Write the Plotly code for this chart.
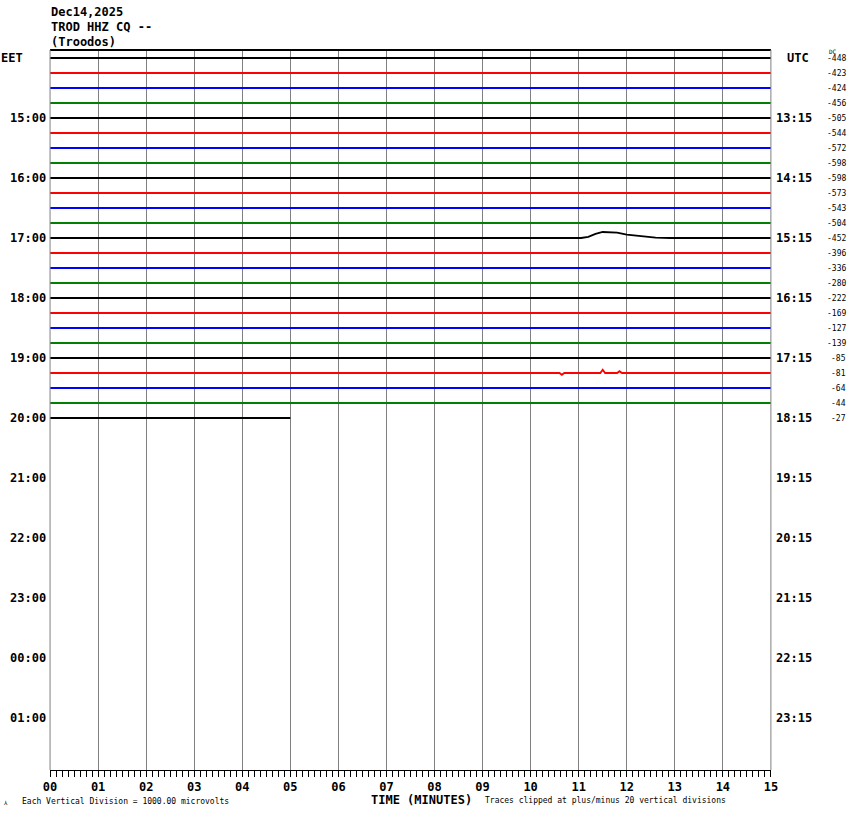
import plotly.graph_objects as go

# ---------------- data ----------------
ROW_COUNT = 25                      # 14:00 ... 20:00 EET, 15-minute rows
ROW_COLORS = ["#000000", "#ff0000", "#0000ff", "#007f00"]
LAST_ROW_END_MIN = 5.0              # last row (20:00) stops at 05 min

LEFT_LABELS = ["EET", "15:00", "16:00", "17:00", "18:00", "19:00", "20:00",
               "21:00", "22:00", "23:00", "00:00", "01:00"]
RIGHT_LABELS = ["UTC", "13:15", "14:15", "15:15", "16:15", "17:15", "18:15",
                "19:15", "20:15", "21:15", "22:15", "23:15"]
DC_OFFSETS = [-448, -423, -424, -456, -505, -544, -572, -598, -598, -573,
              -543, -504, -452, -396, -336, -280, -222, -169, -127, -139,
              -85, -81, -64, -44, -27]

# visible deviations (in trace spacings, + = up)
BUMP_ROW = 12                       # 17:00 EET row
BUMP_MIN = [0.0, 11.05, 11.2, 11.35, 11.5, 11.65, 11.8, 12.0, 12.3, 12.6, 12.9, 15.0]
BUMP_DEV = [0.0, 0.0, 0.08, 0.28, 0.40, 0.40, 0.36, 0.22, 0.10, 0.03, 0.0, 0.0]

SPIKE_ROW = 21                      # 19:15 EET row
SPIKE_MIN = [0.0, 10.6, 10.65, 10.7, 11.45, 11.5, 11.55, 11.8, 11.85, 11.9, 15.0]
SPIKE_DEV = [0.0, 0.0, -0.12, 0.0, 0.0, 0.22, 0.0, 0.0, 0.12, 0.0, 0.0]

X_TICKS = list(range(16))
X_TICK_TEXT = [f"{m:02d}" for m in X_TICKS]

# ---------------- figure ----------------
W, H = 850, 814                     # reference picture size (layout units)
FIG_W = 865                         # page width that the photo maps onto 850 px
PX_L, PX_R, PX_T, PX_B = 50, 770, 50, 770
ROW0_PX, ROW_PX = 58, 15

def px(x):
    return x / W

def py(y):
    return 1 - y / H

y_top = -(PX_T - ROW0_PX) / ROW_PX
y_bot = -(PX_B - ROW0_PX) / ROW_PX

fig = go.Figure()

for r in range(ROW_COUNT):
    color = ROW_COLORS[r % 4]
    end = LAST_ROW_END_MIN if r == ROW_COUNT - 1 else 15.0
    if r == BUMP_ROW:
        xs, ds = BUMP_MIN, BUMP_DEV
    elif r == SPIKE_ROW:
        xs, ds = SPIKE_MIN, SPIKE_DEV
    else:
        xs, ds = [0.0, end], [0.0, 0.0]
    fig.add_trace(go.Scatter(x=xs, y=[-r + d for d in ds], mode="lines",
                             line=dict(color=color, width=1.8),
                             hoverinfo="skip", showlegend=False))

MONO = "DejaVu Sans Mono"
ann = []
for i, lab in enumerate(LEFT_LABELS):
    row = 4 * i
    if lab == "EET":
        ann.append(dict(x=px(-1), xref="paper", xanchor="left", y=-row, yref="y",
                        text=f"<b>{lab}</b>", showarrow=False,
                        font=dict(family=MONO, size=12, color="black")))
    else:
        ann.append(dict(x=px(48), xref="paper", xanchor="right", y=-row, yref="y",
                        text=f"<b>{lab}</b>", showarrow=False,
                        font=dict(family=MONO, size=12, color="black")))
for i, lab in enumerate(RIGHT_LABELS):
    row = 4 * i
    x0 = px(784) if lab == "UTC" else px(773)
    ann.append(dict(x=x0, xref="paper", xanchor="left", y=-row, yref="y",
                    text=f"<b>{lab}</b>", showarrow=False,
                    font=dict(family=MONO, size=12, color="black")))
for r, v in enumerate(DC_OFFSETS):
    ann.append(dict(x=px(847), xref="paper", xanchor="right", y=-r, yref="y",
                    text=str(v), showarrow=False,
                    font=dict(family=MONO, size=8, color="black")))
ann.append(dict(x=px(826), xref="paper", xanchor="left", y=py(52), yref="paper",
                yanchor="middle", text="DC", showarrow=False,
                font=dict(family=MONO, size=6, color="black")))

# header
for j, t in enumerate(["Dec14,2025", "TROD HHZ CQ --", "(Troodos)"]):
    ann.append(dict(x=px(49), xref="paper", xanchor="left", y=py(12 + 15 * j),
                    yref="paper", yanchor="middle", text=f"<b>{t}</b>",
                    showarrow=False, font=dict(family=MONO, size=12, color="black")))
# footer
ann.append(dict(x=px(421), xref="paper", xanchor="center", y=py(800), yref="paper",
                yanchor="middle", text="<b>TIME (MINUTES)</b>", showarrow=False,
                font=dict(family=MONO, size=12, color="black")))
ann.append(dict(x=px(20), xref="paper", xanchor="left", y=py(801), yref="paper",
                yanchor="middle", text="Each Vertical Division = 1000.00 microvolts",
                showarrow=False, font=dict(family=MONO, size=8, color="black")))
ann.append(dict(x=px(482), xref="paper", xanchor="left", y=py(800), yref="paper",
                yanchor="middle",
                text="Traces clipped at plus/minus 20 vertical divisions",
                showarrow=False, font=dict(family=MONO, size=8, color="black")))
ann.append(dict(x=px(2), xref="paper", xanchor="left", y=py(802), yref="paper",
                yanchor="middle", text="\u2144", showarrow=False,
                font=dict(family=MONO, size=6, color="black")))

shapes = [
    dict(type="line", xref="paper", yref="paper", x0=px(PX_L), x1=px(PX_R),
         y0=py(PX_T), y1=py(PX_T), line=dict(color="black", width=2)),
    dict(type="line", xref="paper", yref="paper", x0=px(PX_L), x1=px(PX_L),
         y0=py(PX_T), y1=py(PX_B), line=dict(color="#808080", width=1)),
    dict(type="line", xref="paper", yref="paper", x0=px(PX_R), x1=px(PX_R),
         y0=py(PX_T), y1=py(PX_B), line=dict(color="#808080", width=1)),
]

fig.update_layout(
    width=FIG_W, height=H, autosize=False,
    margin=dict(l=0, r=0, t=0, b=0),
    paper_bgcolor="white", plot_bgcolor="white",
    annotations=ann, shapes=shapes,
    xaxis=dict(domain=[px(PX_L), px(PX_R)], range=[0, 15], fixedrange=True,
               showgrid=True, gridcolor="#808080", gridwidth=1, zeroline=False,
               showline=True, linecolor="black", linewidth=1,
               ticks="outside", ticklen=6, tickcolor="black", tickwidth=1,
               tickvals=X_TICKS, ticktext=[f"<b>{t}</b>" for t in X_TICK_TEXT],
               tickfont=dict(family=MONO, size=12, color="black"),
               minor=dict(dtick=0.125, ticks="outside", ticklen=6,
                          tickcolor="black", showgrid=False)),
    yaxis=dict(domain=[py(PX_B), py(PX_T)], range=[y_bot, y_top], fixedrange=True,
               showgrid=False, zeroline=False, showticklabels=False, showline=False),
)

POST_JS = (
    "document.documentElement.style.margin='0';"
    "document.documentElement.style.overflow='hidden';"
    "document.body.style.margin='0';document.body.style.padding='0';"
    "document.body.style.overflow='hidden';"
    "var g=document.getElementById('{plot_id}');"
    "g.style.position='absolute';g.style.left='-7.5px';g.style.top='0px';"
)

fig.write_html(
    "out.html",
    config={"responsive": False, "displayModeBar": False},
    post_script=POST_JS,
)
